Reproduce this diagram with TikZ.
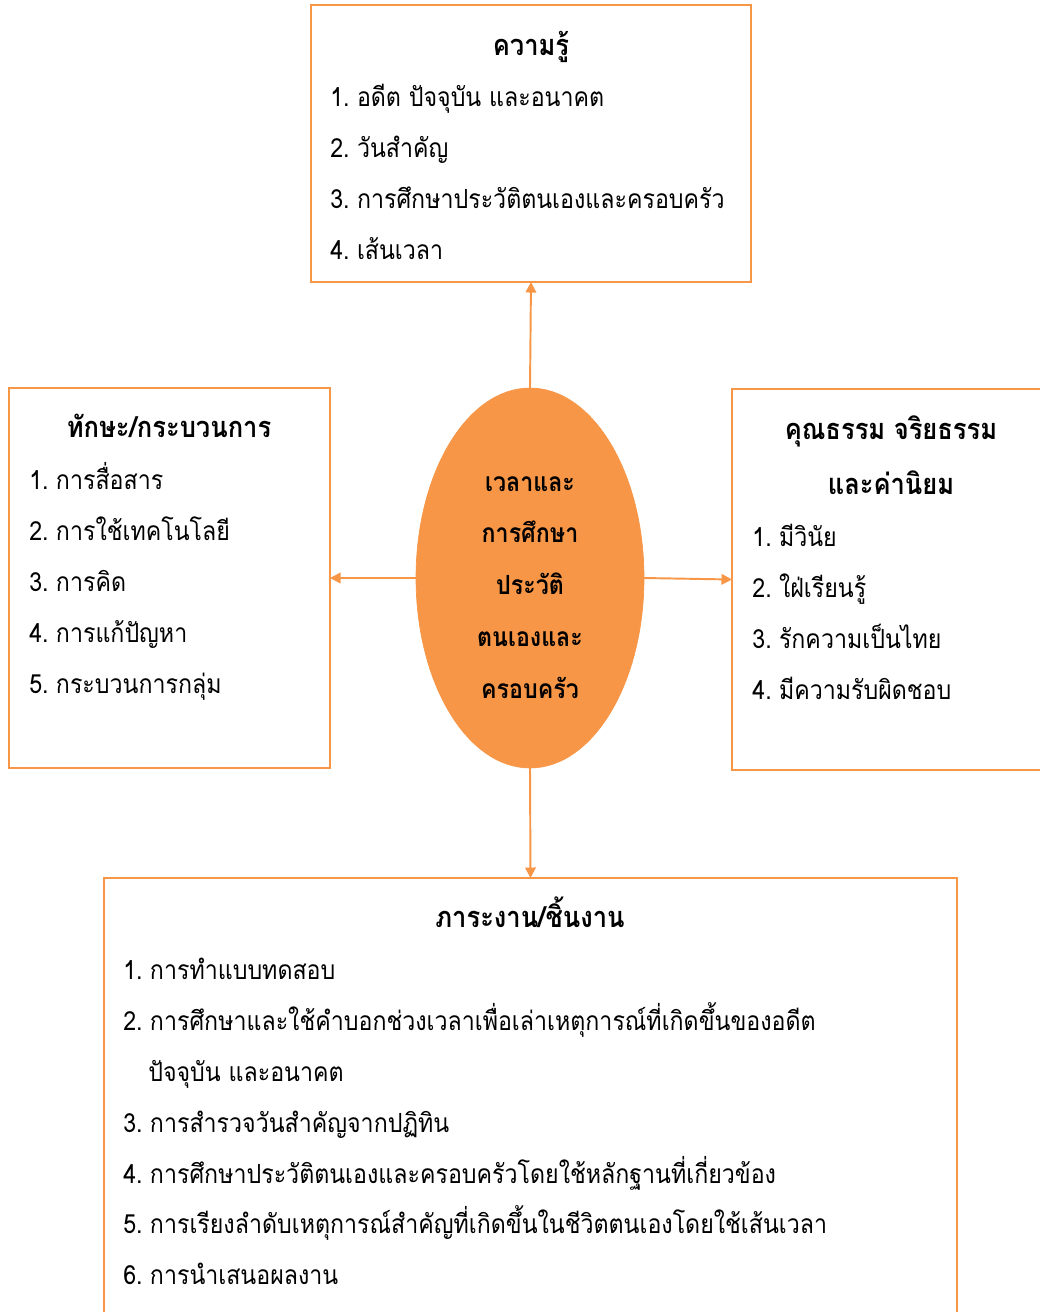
\documentclass[tikz,border=0pt]{standalone}
\usepackage{fontspec}
\setmainfont{Loma}[Script=Thai, FakeStretch=0.88]
\usetikzlibrary{shapes.geometric}
\usetikzlibrary{arrows.meta}
\definecolor{orangeacc}{HTML}{F79646}

\tikzset{
  boite/.style={draw=orangeacc, line width=1.1pt, inner sep=0pt, outer sep=0pt},
  titre/.style={font=\fontsize{16.5pt}{19pt}\selectfont\bfseries, anchor=base, inner sep=0pt},
  motcle/.style={font=\fontsize{15pt}{18pt}\selectfont\bfseries, anchor=base, inner sep=0pt},
  item/.style={font=\fontsize{15pt}{18pt}\selectfont, anchor=base west, inner sep=0pt},
  fleche/.style={draw=orangeacc, line width=1.1pt, -{Triangle[length=6pt, width=6pt]}},
}

\begin{document}
\begin{tikzpicture}[x=0.02cm, y=-0.02cm]
    \useasboundingbox (0,0) rectangle (1039,1312);
    % ellipse centrale
    \node[ellipse, fill=orangeacc, draw=orangeacc, minimum width=4.56cm, minimum height=7.6cm, inner sep=0pt, outer sep=0pt] (centre) at (530,578) {};
    \node[motcle] (c1) at (530,491) {เวลาและ};
    \node[motcle] (c2) at (530,542) {การศึกษา};
    \node[motcle] (c3) at (530,594) {ประวัติ};
    \node[motcle] (c4) at (530,646) {ตนเองและ};
    \node[motcle] (c5) at (530,698) {ครอบครัว};

    % les quatre boites
    \node[boite, minimum width=8.8cm, minimum height=5.54cm] (savoir) at (531,143.5) {};
    \node[boite, minimum width=6.42cm, minimum height=7.6cm] (habilete) at (169.5,578) {};
    \node[boite, minimum width=6.26cm, minimum height=7.62cm] (valeurs) at (888.5,579.5) {};
    \node[boite, minimum width=17.06cm, minimum height=8.84cm] (travaux) at (530.5,1099) {};

    % fleches
    \draw[fleche] (centre.north) -- (savoir.south);
    \draw[fleche] (centre.west) -- (habilete.east);
    \draw[fleche] (centre.east) -- (valeurs.west);
    \draw[fleche] (centre.south) -- (travaux.north);

    % ความรู้
    \node[titre] (s0) at (531,55) {ความรู้};
    \foreach \t [count=\i] in {อดีต ปัจจุบัน และอนาคต, วันสำคัญ, การศึกษาประวัติตนเองและครอบครัว, เส้นเวลา}
        \node[item] (s\i) at (330,{55+51*\i}) {\i.\;\t};

    % ทักษะ
    \node[titre] (h0) at (169,437) {ทักษะ/กระบวนการ};
    \foreach \t [count=\i] in {การสื่อสาร, การใช้เทคโนโลยี, การคิด, การแก้ปัญหา, กระบวนการกลุ่ม}
        \node[item] (h\i) at (29,{438+51*\i}) {\i.\;\t};

    % คุณธรรม
    \node[titre] (v0) at (891,439) {คุณธรรม จริยธรรม};
    \node[titre] (v00) at (891,494) {และค่านิยม};
    \foreach \t [count=\i] in {มีวินัย, ใฝ่เรียนรู้, รักความเป็นไทย, มีความรับผิดชอบ}
        \node[item] (v\i) at (752,{495+51*\i}) {\i.\;\t};

    % ภาระงาน
    \node[titre] (t0) at (530,927) {ภาระงาน/ชิ้นงาน};
    \node[item] (t1) at (123,979) {1.\;การทำแบบทดสอบ};
    \node[item] (t2) at (123,1030) {2.\;การศึกษาและใช้คำบอกช่วงเวลาเพื่อเล่าเหตุการณ์ที่เกิดขึ้นของอดีต};
    \node[item] (t2b) at (148,1081) {ปัจจุบัน และอนาคต};
    \node[item] (t3) at (123,1132) {3.\;การสำรวจวันสำคัญจากปฏิทิน};
    \node[item] (t4) at (123,1183) {4.\;การศึกษาประวัติตนเองและครอบครัวโดยใช้หลักฐานที่เกี่ยวข้อง};
    \node[item] (t5) at (123,1233) {5.\;การเรียงลำดับเหตุการณ์สำคัญที่เกิดขึ้นในชีวิตตนเองโดยใช้เส้นเวลา};
    \node[item] (t6) at (123,1284) {6.\;การนำเสนอผลงาน};
\end{tikzpicture}
\end{document}
